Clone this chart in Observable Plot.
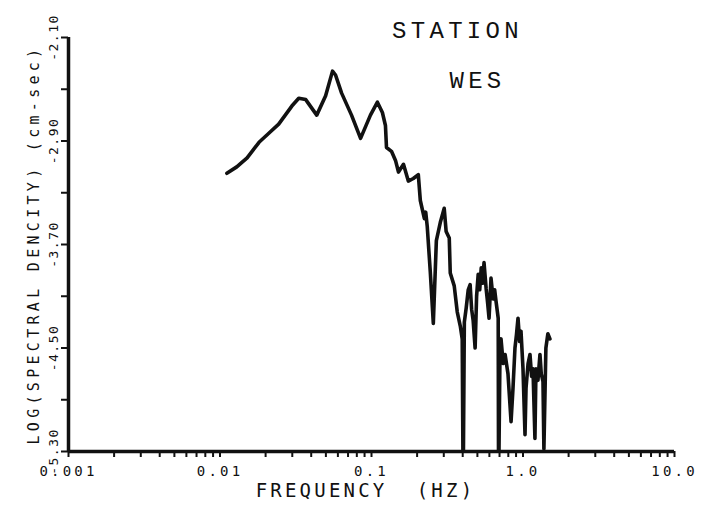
<!DOCTYPE html>
<html>
<head>
<meta charset="utf-8">
<script src="https://cdn.jsdelivr.net/npm/d3@7"></script>
<script src="https://cdn.jsdelivr.net/npm/@observablehq/plot@0.6"></script>
<style>
  body { margin: 0; background: #fff; }
  #chart { width: 712px; height: 517px; }
</style>
</head>
<body>
<div id="chart"></div>
<script>
const freq = [
  0.0111, 0.0129, 0.0151, 0.0181, 0.0210, 0.0244, 0.0298, 0.0331, 0.0368, 0.0435,
  0.0498, 0.0553, 0.0579, 0.0635, 0.0738, 0.0847, 0.0984, 0.1094, 0.118, 0.1236,
  0.1256, 0.1355, 0.144, 0.1507, 0.1626, 0.175, 0.1888, 0.2037, 0.210, 0.2234,
  0.2280, 0.2333, 0.2443, 0.2559, 0.268, 0.2844, 0.302, 0.311, 0.326, 0.331,
  0.3516, 0.368, 0.3855, 0.397, 0.4027, 0.4100, 0.4217, 0.4350, 0.4477, 0.4580,
  0.469, 0.483, 0.494, 0.506, 0.518, 0.530, 0.541, 0.553, 0.571, 0.584,
  0.597, 0.615, 0.635, 0.650, 0.664, 0.686, 0.690, 0.706, 0.716, 0.740,
  0.762, 0.796, 0.834, 0.859, 0.885, 0.905, 0.927, 0.950, 0.970, 1.00,
  1.031, 1.047, 1.080, 1.112, 1.140, 1.164, 1.199, 1.218, 1.255, 1.294,
  1.320, 1.355, 1.374, 1.416, 1.459, 1.506
];
// LOG(spectral density) values (values below -5.30 run off the axis)
const logDensity = [
  -3.15, -3.10, -3.03, -2.91, -2.84, -2.77, -2.63, -2.57, -2.58, -2.70,
  -2.55, -2.36, -2.39, -2.53, -2.70, -2.88, -2.70, -2.60, -2.68, -2.78,
  -2.95, -2.98, -3.05, -3.14, -3.08, -3.21, -3.19, -3.16, -3.36, -3.50,
  -3.45, -3.56, -3.91, -4.31, -3.67, -3.53, -3.42, -3.60, -3.65, -3.92,
  -4.02, -4.22, -4.33, -4.43, -5.60, -4.30, -4.19, -4.05, -4.01, -4.20,
  -4.29, -4.50, -4.10, -3.93, -4.05, -3.88, -4.00, -3.84, -4.04, -4.15,
  -4.27, -3.96, -4.12, -4.05, -4.14, -4.27, -5.60, -4.45, -4.43, -4.62,
  -4.55, -4.70, -5.07, -4.81, -4.50, -4.40, -4.27, -4.45, -4.37, -4.66,
  -5.17, -4.81, -4.62, -4.55, -4.72, -4.66, -5.20, -4.66, -4.75, -4.55,
  -4.70, -4.76, -5.28, -4.50, -4.39, -4.43
];

const xTickValues = [0.001, 0.01, 0.1, 1, 10];
const xTickLabels = ["0.001", "0.01", "0.1", "1.0", "10.0"];
const yTickValues = [-5.3, -4.5, -3.7, -2.9, -2.1];
const yTickLabels = ["-5.30", "-4.50", "-3.70", "-2.90", "-2.10"];
const yTickMarks = [-5.3, -4.9, -4.5, -4.1, -3.7, -3.3, -2.9, -2.5, -2.1];
const xTitle = "FREQUENCY  (HZ)";
const yTitle = "LOG(SPECTRAL DENCITY) (cm-sec)";
const stationTitle = ["STATION"];
const stationName = ["WES"];

const data = freq.map((f, i) => ({f, v: logDensity[i]}));
const xTickMarks = d3.scaleLog().domain([0.001, 10]).ticks();

const ink = "#111";
const mono = "'DejaVu Sans Mono', 'Liberation Mono', monospace";
const typewriter = "'Liberation Mono', 'Courier New', monospace";

const chart = Plot.plot({
  width: 712,
  height: 517,
  marginLeft: 68,
  marginRight: 38,
  marginTop: 37,
  marginBottom: 66,
  style: {fontFamily: mono, color: ink, background: "#fff"},
  x: {type: "log", domain: [0.001, 10]},
  y: {domain: [-5.3, -2.1]},
  marks: [
    Plot.axisX({ticks: xTickMarks, tickFormat: () => "", tickSize: 6, strokeWidth: 2, label: null}),
    Plot.axisY({ticks: yTickMarks, tickFormat: () => "", tickSize: 7, strokeWidth: 2, label: null}),
    Plot.ruleY([-5.3], {stroke: ink, strokeWidth: 3.5}),
    Plot.ruleX([0.001], {stroke: ink, strokeWidth: 3.5}),
    Plot.line(data, {x: "f", y: "v", stroke: ink, strokeWidth: 3.6, strokeLinejoin: "round", strokeLinecap: "round", clip: true}),
    Plot.text(xTickValues, {x: d => d, text: (d, i) => xTickLabels[i], frameAnchor: "bottom", lineAnchor: "middle", dy: 20, fontSize: 14, fill: ink, textAnchor: "middle", ariaDescription: "xticklabels"}),
    Plot.text(yTickValues, {y: d => d, text: (d, i) => yTickLabels[i], frameAnchor: "left", lineAnchor: "middle", dx: -15, rotate: -90, textAnchor: "middle", fontSize: 13, fill: ink, ariaDescription: "yticklabels"}),
    Plot.text([xTitle], {text: d => d, frameAnchor: "bottom", lineAnchor: "middle", dy: 39, dx: -6, fontSize: 19, fill: ink, textAnchor: "middle", ariaDescription: "xtitle"}),
    Plot.text([yTitle], {text: d => d, frameAnchor: "left", lineAnchor: "middle", dx: -34, rotate: -90, textAnchor: "middle", fontSize: 15, fill: ink, ariaDescription: "ytitle"}),
    Plot.text(stationTitle, {text: d => d, frameAnchor: "top", lineAnchor: "middle", dx: 86, dy: -7, fontSize: 24, fontFamily: typewriter, fill: ink, textAnchor: "middle", ariaDescription: "station"}),
    Plot.text(stationName, {text: d => d, frameAnchor: "top", lineAnchor: "middle", dx: 106, dy: 43, fontSize: 24, fontFamily: typewriter, fill: ink, textAnchor: "middle", ariaDescription: "station"})
  ]
});

const svg = d3.select(chart);
const spacing = {xticklabels: 3.2, yticklabels: 1.5, xtitle: 3.2, ytitle: 4.3, station: 4.3};
for (const [key, value] of Object.entries(spacing)) {
  svg.selectAll(`g[aria-description="${key}"] text`).attr("letter-spacing", value);
}

document.getElementById("chart").appendChild(chart);
</script>
</body>
</html>
